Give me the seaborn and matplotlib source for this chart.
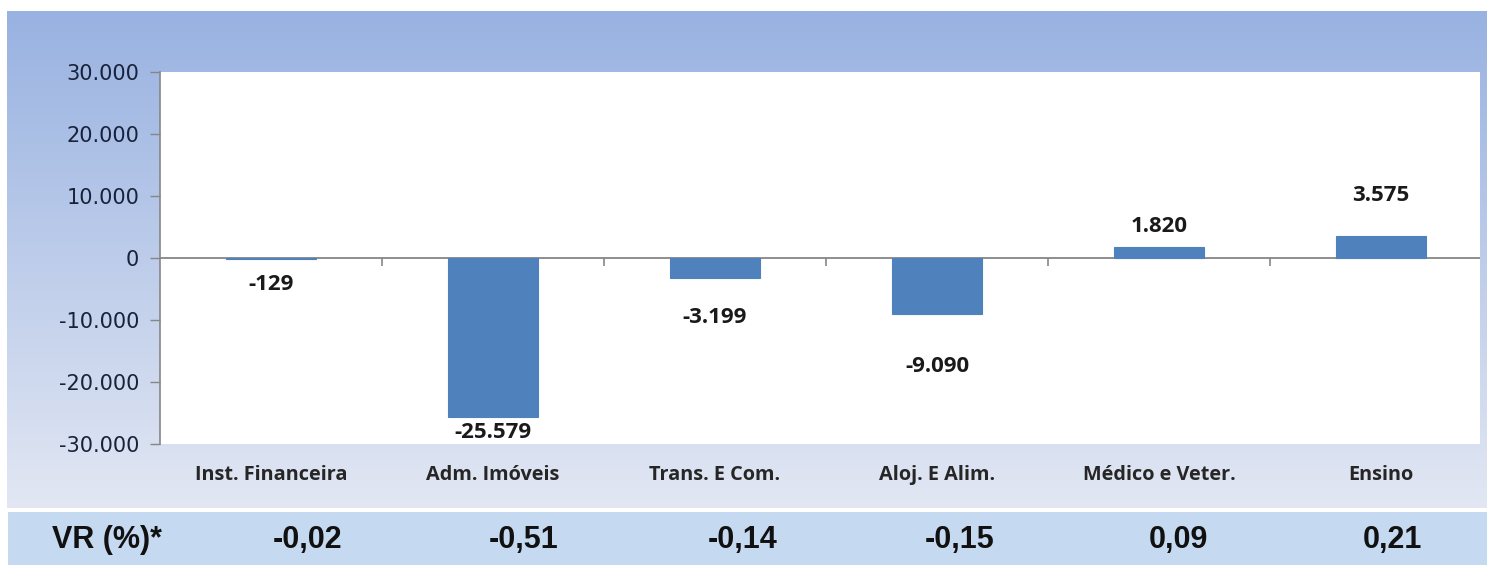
import numpy as np
import matplotlib
matplotlib.use("Agg")
import matplotlib.pyplot as plt
from matplotlib.patches import Rectangle
import seaborn as sns

# data
categories = ["Inst. Financeira", "Adm. Imóveis", "Trans. E Com.", "Aloj. E Alim.", "Médico e Veter.", "Ensino"]
saldo = [-129, -25579, -3199, -9090, 1820, 3575]
vr_label = "VR (%)*"
vr_values = ["-0,02", "-0,51", "-0,14", "-0,15", "0,09", "0,21"]
y_ticks = [-30000, -20000, -10000, 0, 10000, 20000, 30000]

# layout (pixels of the 1487x565 picture)
W, H = 1487, 565
label_offsets = [-26, -16, -40, -52, 20, 40]   # label centre vs bar end
vr_x = [308, 524, 743, 960, 1178, 1392]
BAR = "#4F81BD"
AXIS_GREY = "#868686"


def fmt(v):
    return f"{v:,.0f}".replace(",", ".")


fig = plt.figure(figsize=(W / 100, H / 100), dpi=100)
fig.patch.set_facecolor("white")

# gradient panel behind the chart
bg = fig.add_axes([7 / W, 1 - 508 / H, 1480 / W, 497 / H], zorder=0)
top = np.array([0x98, 0xB2, 0xE1]) / 255
bottom = np.array([0xE2, 0xE7, 0xF3]) / 255
t = np.linspace(0, 1, 256)[:, None]
grad = (top * (1 - t) + bottom * t)[:, None, :]
bg.imshow(grad, aspect="auto", extent=[0, 1, 0, 1])
bg.axis("off")

# band for the VR row
fig.add_artist(Rectangle((8 / W, 0), 1479 / W, 53 / H, transform=fig.transFigure,
                         facecolor="#C5D9F1", edgecolor="none", zorder=1))

ax = fig.add_axes([160 / W, 1 - 444 / H, 1320 / W, 372 / H], zorder=2)
ax.set_facecolor("white")
sns.barplot(x=categories, y=saldo, color=BAR, saturation=1, width=0.405,
            errorbar=None, ax=ax, zorder=3)
# make the tiny -129 bar visible as a thin strip under the axis line
for p in ax.patches:
    p.set_edgecolor(BAR)
    p.set_linewidth(0.8)

ax.set_xlim(-0.5, -0.5 + 1320 / 222)
ax.set_ylim(y_ticks[0], y_ticks[-1])
ax.set_yticks(y_ticks)
ax.set_yticklabels([fmt(v) for v in y_ticks], fontsize=15, color="#18223A", family="DejaVu Sans")
ax.tick_params(axis="y", direction="out", length=7, width=1, color=AXIS_GREY, pad=8)
ax.set_xticks(range(len(categories)))
ax.set_xticklabels(categories, fontsize=14.3, fontweight="bold", family="Open Sans", color="#262626")
ax.tick_params(axis="x", length=0, pad=15)
for side in ["top", "right", "bottom"]:
    ax.spines[side].set_visible(False)
ax.spines["left"].set_color(AXIS_GREY)
ax.spines["left"].set_linewidth(1.2)

# category axis crossing at zero, with ticks between groups
ax.axhline(0, color=AXIS_GREY, lw=1.3, zorder=2.5)
bounds = np.arange(len(categories) - 1) + 0.5
ax.vlines(bounds, -1300, 0, color=AXIS_GREY, lw=1.2, zorder=4)

for i, (v, off) in enumerate(zip(saldo, label_offsets)):
    ax.annotate(fmt(v), (i, v), xytext=(0, off), textcoords="offset pixels",
                ha="center", va="center", fontsize=16, fontweight="bold",
                family="Open Sans", color="#1A1A1A")

ax.set_xlabel("")
ax.set_ylabel("")

# VR row
fig.text(107 / W, 1 - 540 / H, vr_label, ha="center", va="center", fontsize=22,
         fontweight="bold", family="Liberation Sans", color="#111111", zorder=5)
for x, s in zip(vr_x, vr_values):
    fig.text(x / W, 1 - 540 / H, s, ha="center", va="center", fontsize=22,
             fontweight="bold", family="Liberation Sans", color="#111111", zorder=5)

fig.savefig("out.png", dpi=100)
